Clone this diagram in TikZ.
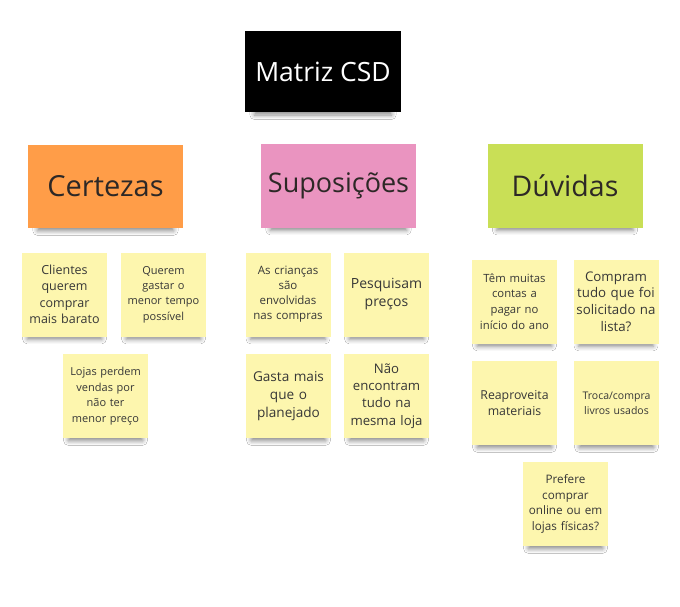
\documentclass[tikz,border=0pt]{standalone}
\usepackage{fontspec}
\setmainfont{Open Sans}
\usetikzlibrary{shadows.blur}
\definecolor{notey}{RGB}{253,246,174}
\definecolor{certc}{RGB}{255,157,72}
\definecolor{supc}{RGB}{234,148,192}
\definecolor{duvc}{RGB}{201,223,86}
\definecolor{txt}{RGB}{55,55,55}
\definecolor{htxt}{RGB}{45,40,38}
\tikzset{
  shad/.style={blur shadow={shadow xshift=0pt, shadow yshift=-9pt, shadow blur radius=5pt, shadow opacity=45, shadow scale=0.88}},
  note/.style={shad, fill=notey, minimum width=85pt, minimum height=84pt, inner sep=0pt, align=center, text width=84pt, text=txt},
  header/.style={shad, minimum width=155pt, minimum height=83pt, inner sep=0pt, align=center, text=htxt},
  fs/.style n args={2}{font=\fontsize{#1}{#2}\selectfont}
}
\begin{document}
\begin{tikzpicture}[x=1pt,y=-1pt]
\useasboundingbox[fill=white] (0,0) rectangle (680,607);
\node[shad, fill=black, text=white, minimum width=156pt, minimum height=81pt, inner sep=0pt, font=\fontsize{26.5}{30}\selectfont] (title) at (323,71.5) {Matriz CSD};
\node[header, fill=certc, fs={29}{34}] (cert) at (105.5,186.5) {Certezas};
\node[header, fill=supc, fs={27}{32}] (sup) at (338.5,186) {Suposições};
\node[header, fill=duvc, fs={28.5}{34}] (duv) at (565,186) {Dúvidas};
\node[note, fs={12.5}{16.5}] (c1) at (64.5,294.5) {Clientes\\querem\\comprar\\mais barato};
\node[note, fs={11}{15.3}] (c2) at (163.5,294.5) {Querem\\gastar o\\menor tempo\\possível};
\node[note, fs={11}{15.5}] (c3) at (105.5,396) {Lojas perdem\\vendas por\\não ter\\menor preço};
\node[note, fs={11.5}{15}] (s1) at (288,294.5) {As crianças\\são\\envolvidas\\nas compras};
\node[note, fs={14}{18}] (s2) at (386.5,294.5) {Pesquisam\\preços};
\node[note, fs={13.6}{18}] (s3) at (288.5,396) {Gasta mais\\que o\\planejado};
\node[note, fs={13.2}{17.2}] (s4) at (386.5,396) {Não\\encontram\\tudo na\\mesma loja};
\node[note, fs={11.3}{15.7}] (d1) at (514.5,301.5) {Têm muitas\\contas a\\pagar no\\início do ano};
\node[note, fs={13.3}{16.8}] (d2) at (616,301.5) {Compram\\tudo que foi\\solicitado na\\lista?};
\node[note, fs={12.3}{16.5}] (d3) at (514.5,403) {Reaproveita\\materiais};
\node[note, fs={10.5}{15}] (d4) at (616.5,403) {Troca/compra\\livros usados};
\node[note, fs={11.7}{15.7}] (d5) at (565.5,504) {Prefere\\comprar\\online ou em\\lojas físicas?};
\end{tikzpicture}
\end{document}
